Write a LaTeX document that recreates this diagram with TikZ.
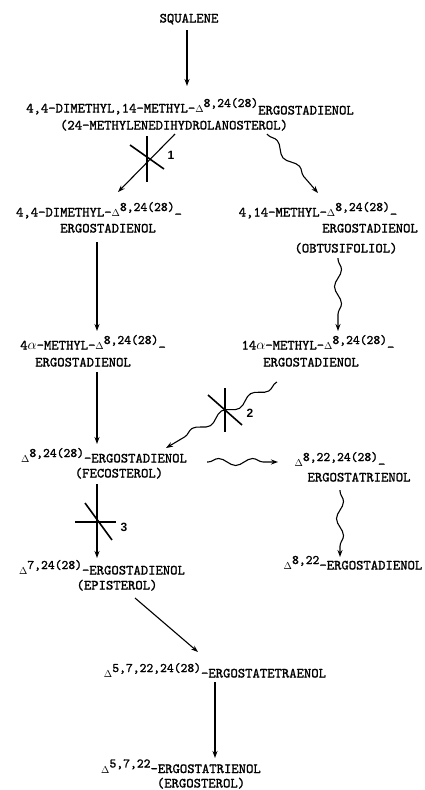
\documentclass[tikz,border=0pt]{standalone}
\usepackage{fontspec}
\setsansfont{Liberation Sans}
\setmonofont{lmmono10-regular.otf}[FakeBold=1.3]
\usetikzlibrary{arrows.meta,decorations.pathmorphing}
\newcommand\dl[1]{{\fontsize{10}{10}\selectfont$\Delta$}\raisebox{5.5pt}{\fontsize{13}{13}\selectfont #1}}
\newcommand\lo{\raisebox{-2pt}{-}}
\begin{document}
\begin{tikzpicture}[x=1pt,y=-1pt,
  lbl/.style={inner sep=0pt, anchor=base, font=\ttfamily\fontsize{14}{16}\selectfont},
  num/.style={inner sep=0pt, anchor=center, font=\sffamily\bfseries\fontsize{12}{12}\selectfont},
  arr/.style={line width=1.1pt, -{Stealth[length=7pt,width=5pt]}},
  wavy/.style={line width=1.1pt, -{Stealth[length=7pt,width=5pt]}, decorate,
     decoration={snake, segment length=34pt, amplitude=3.5pt, pre length=1pt, post length=7pt}},
  blockline/.style={line width=1.6pt}]
\useasboundingbox (0,0) rectangle (425,790);

% compounds
\node[lbl] (sq)  at (189,22.5) {SQUALENE};
\node[lbl] (l1a) at (190,112.5) {4,4-DIMETHYL,14-METHYL-\dl{8,24(28)}\raisebox{-2pt}{ERGOSTADIENOL}};
\node[lbl] (l1b) at (174,129.5) {(24-METHYLENEDIHYDROLANOSTEROL)};
\node[lbl] (l2a) at (99,216.5) {4,4-DIMETHYL-\dl{8,24(28)}\lo};
\node[lbl] (l2b) at (108,232.5) {ERGOSTADIENOL};
\node[lbl] (r2a) at (318,216.5) {4,14-METHYL-\dl{8,24(28)}\lo};
\node[lbl] (r2b) at (370,232.5) {ERGOSTADIENOL};
\node[lbl] (r2c) at (346,252.5) {(OBTUSIFOLIOL)};
\node[lbl] (l3a) at (93,349.5) {4$\alpha$-METHYL-\dl{8,24(28)}\lo};
\node[lbl] (l3b) at (83,366.5) {ERGOSTADIENOL};
\node[lbl] (r3a) at (318,349.5) {14$\alpha$-METHYL-\dl{8,24(28)}\lo};
\node[lbl] (r3b) at (311,366.5) {ERGOSTADIENOL};
\node[lbl] (l4a) at (104,462.5) {\dl{8,24(28)}-ERGOSTADIENOL};
\node[lbl] (l4b) at (119,477.5) {(FECOSTEROL)};
\node[lbl] (r4a) at (340,466.5) {\dl{8,22,24(28)}\lo};
\node[lbl] (r4b) at (359,481.5) {ERGOSTATRIENOL};
\node[lbl] (l5a) at (102,574.5) {\dl{7,24(28)}-ERGOSTADIENOL};
\node[lbl] (l5b) at (117,589.5) {(EPISTEROL)};
\node[lbl] (r5)  at (353,569.5) {\dl{8,22}-ERGOSTADIENOL};
\node[lbl] (c6)  at (215,677.5) {\dl{5,7,22,24(28)}-ERGOSTATETRAENOL};
\node[lbl] (c7a) at (181,773) {\dl{5,7,22}-ERGOSTATRIENOL};
\node[lbl] (c7b) at (201,787.5) {(ERGOSTEROL)};

% arrow end points
\coordinate (a0s) at (187,30);  \coordinate (a0e) at (187,86);
\coordinate (a1s) at (175,134); \coordinate (a1e) at (118,192);
\coordinate (a2s) at (267,134); \coordinate (a2e) at (318,193);
\coordinate (a3s) at (97,242);  \coordinate (a3e) at (97,331);
\coordinate (a4s) at (338,258); \coordinate (a4e) at (338,331);
\coordinate (a5s) at (97,372);  \coordinate (a5e) at (97,444);
\coordinate (a6s) at (277,382); \coordinate (a6e) at (166,448);
\coordinate (a7s) at (207,462); \coordinate (a7e) at (278,462);
\coordinate (a8s) at (340,490); \coordinate (a8e) at (340,557);
\coordinate (a9s) at (97,484);  \coordinate (a9e) at (97,558);
\coordinate (a10s) at (135,598); \coordinate (a10e) at (198,652);
\coordinate (a11s) at (215,682); \coordinate (a11e) at (215,758);

\draw[arr] (a0s) -- (a0e);
\draw[arr] (a1s) -- (a1e);
\draw[wavy] (a2s) -- (a2e);
\draw[arr] (a3s) -- (a3e);
\draw[wavy] (a4s) -- (a4e);
\draw[arr] (a5s) -- (a5e);
\draw[wavy] (a6s) -- (a6e);
\draw[wavy] (a7s) -- (a7e);
\draw[wavy] (a8s) -- (a8e);
\draw[arr] (a9s) -- (a9e);
\draw[arr] (a10s) -- (a10e);
\draw[arr] (a11s) -- (a11e);

% blocks
\draw[blockline] (147,136) -- (147,182);
\draw[blockline] (130,145) -- (164,169);
\node[num] (n1) at (171,155) {1};
\draw[blockline] (225,388) -- (225,432);
\draw[blockline] (208,395) -- (242,425);
\node[num] (n2) at (250,413) {2};
\draw[blockline] (75,522) -- (116,522);
\draw[blockline] (85,503) -- (112,540);
\node[num] (n3) at (124,527) {3};
\end{tikzpicture}
\end{document}
